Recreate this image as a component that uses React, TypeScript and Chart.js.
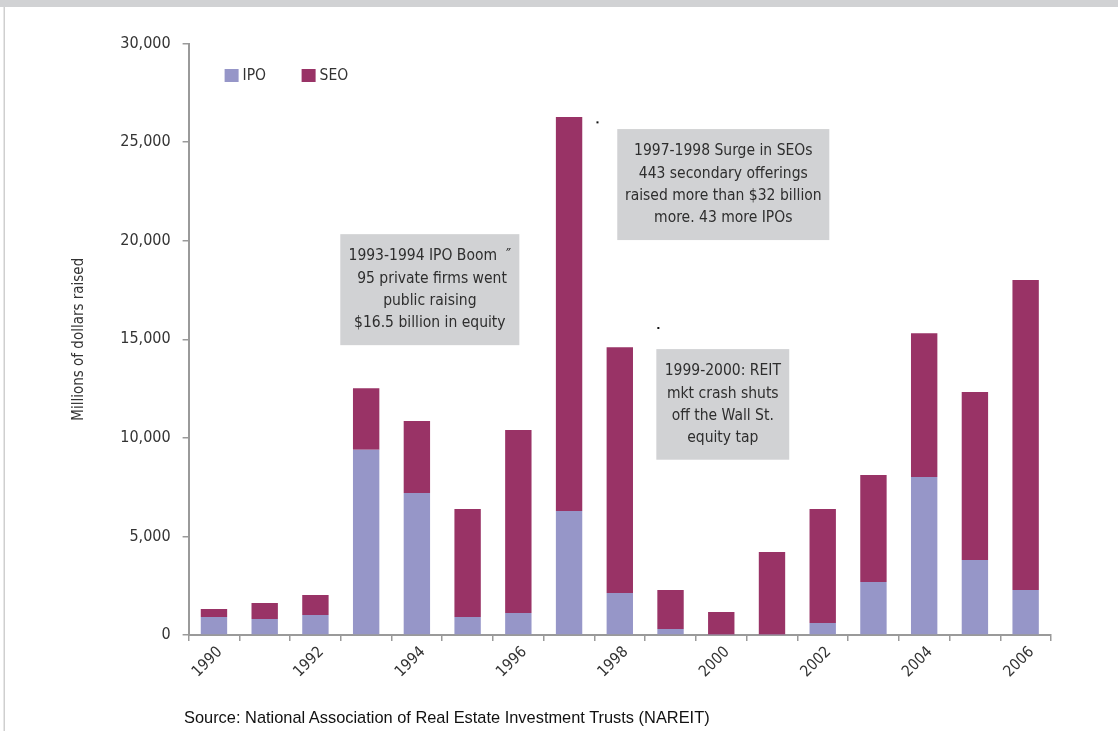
import React, { useEffect, useRef } from "react";
import { Chart, registerables } from "chart.js";

Chart.register(...registerables);

// ---------- data ----------
const years = [
  "1990", "1991", "1992", "1993", "1994", "1995", "1996", "1997", "1998",
  "1999", "2000", "2001", "2002", "2003", "2004", "2005", "2006",
];
const ipoValues = [910, 810, 1010, 9400, 7200, 910, 1120, 6290, 2130, 300, 30, 30, 610, 2690, 8010, 3800, 2280];
const seoValues = [410, 810, 1020, 3120, 3650, 5480, 9280, 19980, 12470, 1980, 1140, 4180, 5780, 5420, 7300, 8520, 15720];
const seriesNames = ["IPO", "SEO"];
const seriesColors = ["#9696C8", "#993366"];
const yMin = 0;
const yMax = 30000;
const yStep = 5000;
const yAxisTitle = "Millions of dollars raised";
const sourceNote = "Source: National Association of Real Estate Investment Trusts (NAREIT)";

// annotation boxes, anchored in data units (category index, value)
const noteBoxes = [
  {
    lines: ["1993-1994 IPO Boom  \u2033", " 95 private firms went", "public raising", "$16.5 billion in equity"],
    xFrom: 2.49, xTo: 6.02, yTop: 20330, yBottom: 14700,
  },
  {
    lines: ["1997-1998 Surge in SEOs", "443 secondary offerings", "raised more than $32 billion", "more. 43 more IPOs"],
    xFrom: 7.95, xTo: 12.13, yTop: 25660, yBottom: 20030,
  },
  {
    lines: ["1999-2000: REIT", "mkt crash shuts", "off the Wall St.", "equity tap"],
    xFrom: 8.72, xTo: 11.34, yTop: 14500, yBottom: 8890,
  },
];
const strayMarks = [
  { x: 7.56, y: 26000 },
  { x: 8.76, y: 15570 },
];

const CONDENSED = "'Liberation Sans Narrow', 'Arial Narrow', 'DejaVu Sans Condensed', sans-serif";

const W = 1118;
const H = 731;

export default function App() {
  const canvasRef = useRef<HTMLCanvasElement | null>(null);

  useEffect(() => {
    document.body.style.margin = "0";
    const canvas = canvasRef.current;
    if (!canvas) return;

    const framePlugin = {
      id: "frame",
      beforeDraw(chart: any) {
        const ctx = chart.ctx;
        ctx.save();
        ctx.fillStyle = "#ffffff";
        ctx.fillRect(0, 0, W, H);
        ctx.fillStyle = "#d1d2d4";
        ctx.fillRect(0, 0, W, 7);
        ctx.fillStyle = "#cfcfcf";
        ctx.fillRect(3.5, 7, 1.5, H - 7);
        ctx.restore();
      },
    };

    const legendPlugin = {
      id: "customLegend",
      afterDraw(chart: any) {
        const ctx = chart.ctx;
        const area = chart.chartArea;
        ctx.save();
        ctx.font = `15.5px ${CONDENSED}`;
        ctx.textBaseline = "middle";
        ctx.textAlign = "left";
        let x = area.left + 36;
        const y = 69;
        chart.data.datasets.forEach((ds: any) => {
          ctx.fillStyle = ds.backgroundColor;
          ctx.fillRect(x, y, 14, 13);
          ctx.fillStyle = "#333333";
          ctx.fillText(ds.label, x + 18, y + 7);
          x += 77;
        });
        ctx.restore();
      },
    };

    const notesPlugin = {
      id: "notes",
      afterDatasetsDraw(chart: any) {
        const ctx = chart.ctx;
        const xs = chart.scales.x;
        const ys = chart.scales.y;
        ctx.save();
        noteBoxes.forEach((b) => {
          const x1 = xs.getPixelForValue(b.xFrom);
          const x2 = xs.getPixelForValue(b.xTo);
          const y1 = ys.getPixelForValue(b.yTop);
          const y2 = ys.getPixelForValue(b.yBottom);
          ctx.fillStyle = "#d1d2d4";
          ctx.fillRect(x1, y1, x2 - x1, y2 - y1);
          ctx.fillStyle = "#2e2e2e";
          ctx.font = `15.5px ${CONDENSED}`;
          ctx.textAlign = "center";
          ctx.textBaseline = "middle";
          const cx = (x1 + x2) / 2;
          b.lines.forEach((ln, i) => {
            ctx.fillText(ln, cx, y1 + 22 + i * 22.4);
          });
        });
        ctx.fillStyle = "#111111";
        strayMarks.forEach((m) => {
          ctx.fillRect(xs.getPixelForValue(m.x) - 1, ys.getPixelForValue(m.y) - 1, 2, 2);
        });
        ctx.restore();
      },
    };

    const chart = new Chart(canvas, {
      type: "bar",
      data: {
        labels: years,
        datasets: [
          { label: seriesNames[0], data: ipoValues, backgroundColor: seriesColors[0], borderWidth: 0 },
          { label: seriesNames[1], data: seoValues, backgroundColor: seriesColors[1], borderWidth: 0 },
        ],
      },
      options: {
        responsive: false,
        animation: false,
        layout: { padding: { left: 0, top: 43.5, right: 67, bottom: 0 } },
        plugins: {
          legend: { display: false },
          tooltip: { enabled: false },
        },
        datasets: {
          bar: { categoryPercentage: 1, barPercentage: 0.52 },
        },
        scales: {
          x: {
            stacked: true,
            afterFit: (scale: any) => {
              scale.height = H - 635;
            },
            grid: {
              display: true,
              drawOnChartArea: false,
              drawTicks: true,
              tickLength: 6,
              offset: true,
              color: "#9a9a9a",
              lineWidth: 1.5,
            },
            border: { display: true, color: "#9a9a9a", width: 2 },
            ticks: {
              autoSkip: false,
              minRotation: 45,
              maxRotation: 45,
              padding: 2,
              labelOffset: 6,
              color: "#333333",
              font: { family: CONDENSED, size: 15.5 },
              callback: function (this: any, _v: any, index: number) {
                return index % 2 === 0 ? years[index] : "";
              },
            },
          },
          y: {
            stacked: true,
            min: yMin,
            max: yMax,
            afterFit: (scale: any) => {
              scale.width = 188.6;
            },
            grid: {
              display: true,
              drawOnChartArea: false,
              drawTicks: true,
              tickLength: 6,
              color: "#9a9a9a",
              lineWidth: 1.5,
            },
            border: { display: true, color: "#9a9a9a", width: 2 },
            ticks: {
              stepSize: yStep,
              padding: 12,
              color: "#333333",
              font: { family: CONDENSED, size: 16 },
            },
            title: {
              display: true,
              text: yAxisTitle,
              color: "#333333",
              font: { family: CONDENSED, size: 15 },
              padding: { top: 70, bottom: 0 },
            },
          },
        },
      },
      plugins: [framePlugin, notesPlugin, legendPlugin],
    });

    return () => {
      chart.destroy();
    };
  }, []);

  return (
    <div style={{ position: "relative", width: W, height: H, overflow: "hidden" }}>
      <canvas ref={canvasRef} width={W} height={H} style={{ width: W, height: H, display: "block" }} />
      <div
        style={{
          position: "absolute",
          left: 184,
          top: 708,
          fontFamily: "'Liberation Sans', Arial, sans-serif",
          fontSize: 16.4,
          lineHeight: "18px",
          color: "#111111",
          whiteSpace: "nowrap",
        }}
      >
        {sourceNote}
      </div>
    </div>
  );
}
